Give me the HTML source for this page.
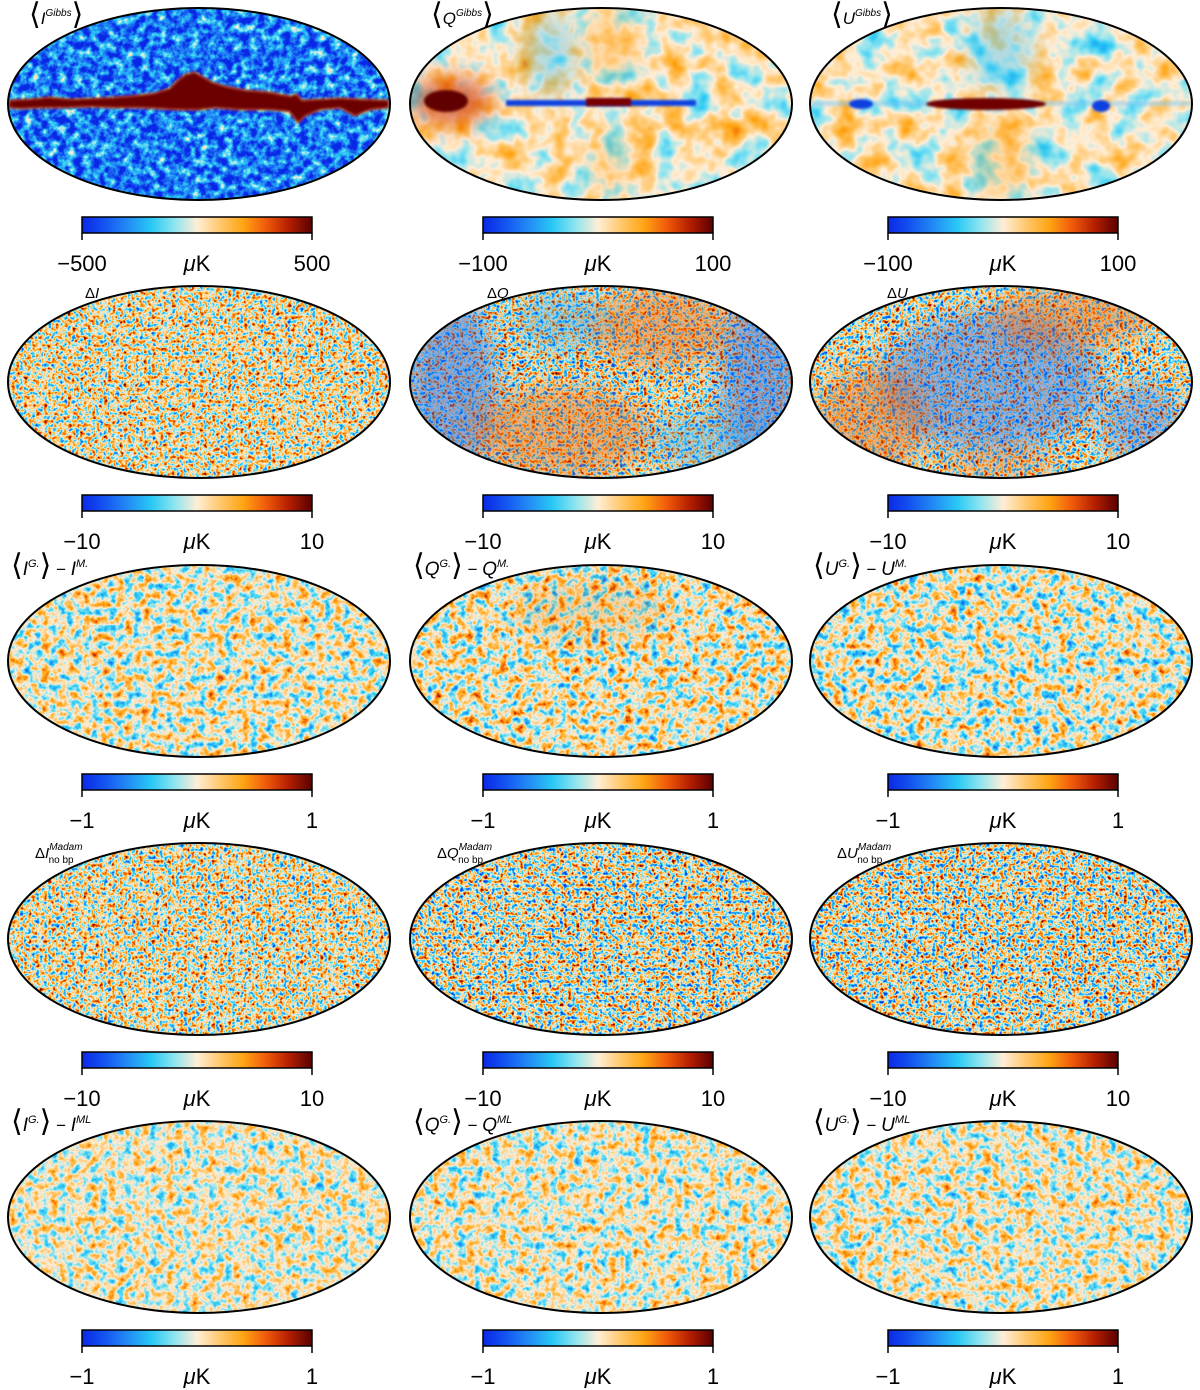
<!DOCTYPE html>
<html><head><meta charset="utf-8">
<style>
html,body{margin:0;padding:0;background:#fff;}
svg{display:block;font-family:"Liberation Sans",sans-serif;}
</style></head>
<body>
<svg id="fig" width="1200" height="1390" viewBox="0 0 1200 1390" xmlns="http://www.w3.org/2000/svg">
<defs id="defs">
<linearGradient id="cmap" x1="0" x2="1" y1="0" y2="0">
<stop offset="0" stop-color="rgb(10,40,230)"/>
<stop offset="0.1" stop-color="rgb(20,85,240)"/>
<stop offset="0.2" stop-color="rgb(35,140,245)"/>
<stop offset="0.3" stop-color="rgb(40,200,245)"/>
<stop offset="0.4" stop-color="rgb(140,228,240)"/>
<stop offset="0.5" stop-color="rgb(255,238,215)"/>
<stop offset="0.6" stop-color="rgb(255,200,110)"/>
<stop offset="0.7" stop-color="rgb(255,165,20)"/>
<stop offset="0.8" stop-color="rgb(240,90,10)"/>
<stop offset="0.9" stop-color="rgb(180,30,0)"/>
<stop offset="1" stop-color="rgb(90,0,0)"/>
</linearGradient>
<filter id="blur8" x="-50%" y="-50%" width="200%" height="200%"><feGaussianBlur stdDeviation="12"/></filter>
<filter id="blur2" x="-20%" y="-50%" width="140%" height="200%"><feGaussianBlur stdDeviation="1.2"/></filter>
</defs>
</svg>
<script>
const NS="http://www.w3.org/2000/svg";
const svg=document.getElementById('fig');
const defs=document.getElementById('defs');

// Data arrays
const rowTickMin=[["\u2212500","\u2212100","\u2212100"],["\u221210","\u221210","\u221210"],["\u22121","\u22121","\u22121"],["\u221210","\u221210","\u221210"],["\u22121","\u22121","\u22121"]];
const rowTickMax=[["500","100","100"],["10","10","10"],["1","1","1"],["10","10","10"],["1","1","1"]];
const unitLabel="K";
const stokes=["I","Q","U"];

// layout
const colCx=[199,601,1001];
const rowCy=[104,382,661,939,1217];
const RX=191, RY=96;
const cbX=[82,483,888], cbW=230, cbOff=113, cbH=16;

const cmR=[10,20,35,40,140,255,255,255,240,180,90];
const cmG=[40,85,140,200,228,238,200,165,90,30,0];
const cmB=[230,240,245,245,240,215,110,20,10,0,0];
const tbl=a=>a.map(v=>(v/255).toFixed(3)).join(' ');

// map parameters [mean, contrast, freq, octaves]
const mapParams=[
 [[0.17,1.0,0.12,3],[0.52,0.6,0.035,3],[0.5,0.6,0.035,3]],
 [[0.53,1.3,0.25,2],[0.5,1.5,0.25,2],[0.5,1.5,0.25,2]],
 [[0.5,0.9,0.12,3],[0.51,1.0,0.12,3],[0.49,1.0,0.12,3]],
 [[0.52,1.3,0.25,2],[0.5,1.5,0.25,2],[0.5,1.5,0.25,2]],
 [[0.5,0.8,0.12,3],[0.5,0.85,0.12,3],[0.5,0.85,0.12,3]]
];
// large-scale overlays: [dx,dy,rx,ry,color,opacity]
const overlays={
 "1-1":[[-150,0,45,90,"#2060e8",0.45],[160,0,40,90,"#2060e8",0.45],[60,-55,70,40,"#e86010",0.4],[-40,50,90,45,"#e86010",0.4],[-40,-60,45,30,"#30a0f0",0.35],[110,60,60,30,"#30a0f0",0.35]],
 "1-2":[[-10,0,110,70,"#2060e8",0.4],[70,-65,80,30,"#e86010",0.4],[-130,40,55,55,"#e86010",0.4],[0,85,60,15,"#e86010",0.3],[140,40,40,40,"#2060e8",0.35]],
 "2-1":[[-10,-50,80,30,"#f09020",0.2]],
 "0-1":[[-50,-50,25,40,"#40c0f0",0.4],[10,-60,25,40,"#ffb040",0.35],[10,60,20,35,"#ffb040",0.3]],
 "0-2":[[0,-55,30,40,"#40c0f0",0.4],[0,55,30,40,"#ffb040",0.35]]
};

let fid=0;
function makeFilter(p,seed){
  const [mean,k,f,oct]=p;
  const id='n'+(fid++);
  const flt=document.createElementNS(NS,'filter');
  flt.setAttribute('id',id);flt.setAttribute('x','0');flt.setAttribute('y','0');flt.setAttribute('width','1');flt.setAttribute('height','1');
  flt.setAttribute('color-interpolation-filters','sRGB');
  const b=(mean-0.5*k).toFixed(3);
  flt.innerHTML=`<feTurbulence type="fractalNoise" baseFrequency="${f}" numOctaves="${oct}" seed="${seed}"/>
  <feColorMatrix type="matrix" values="${k} 0 0 0 ${b} ${k} 0 0 0 ${b} ${k} 0 0 0 ${b} 0 0 0 0 1"/>
  <feComponentTransfer><feFuncR type="table" tableValues="${tbl(cmR)}"/><feFuncG type="table" tableValues="${tbl(cmG)}"/><feFuncB type="table" tableValues="${tbl(cmB)}"/><feFuncA type="linear" slope="0" intercept="1"/></feComponentTransfer>`;
  defs.appendChild(flt);
  return id;
}
function el(tag,attrs,parent){const e=document.createElementNS(NS,tag);for(const a in attrs)e.setAttribute(a,attrs[a]);(parent||svg).appendChild(e);return e;}

for(let r=0;r<5;r++){
 for(let c=0;c<3;c++){
  const cx=colCx[c], cy=rowCy[r];
  const g=el('g',{});
  
  
  const cid='clip'+r+c;
  const cp=el('clipPath',{id:cid},defs);
  el('ellipse',{cx:cx,cy:cy,rx:RX,ry:RY},cp);
  const inner=el('g',{'clip-path':`url(#${cid})`},g);
  const fidn=makeFilter(mapParams[r][c],r*7+c*3+1);
  el('rect',{x:cx-RX,y:cy-RY,width:2*RX,height:2*RY,filter:`url(#${fidn})`},inner);
  const ov=overlays[r+'-'+c]||[];
  ov.forEach(o=>{el('ellipse',{cx:cx+o[0],cy:cy+o[1],rx:o[2],ry:o[3],fill:o[4],opacity:o[5],filter:'url(#blur8)'},inner);});
  if(r===0&&c===0){
    const pts="10,101 30,100 50,98 70,100 100,99 130,97 155,94 170,89 178,81 186,75 195,73 205,79 212,83 225,87 245,91 270,93 290,97 296,95 302,101 320,100 340,99 360,100 388,101 388,107 370,109 355,115 340,107 320,109 305,115 298,122 290,111 270,109 240,109 215,107 200,109 180,109 160,108 140,107 115,107 90,106 60,107 40,107 20,108 10,107";
    el('polygon',{points:pts,fill:'#f05010',stroke:'#f05010','stroke-width':3,opacity:0.8,filter:'url(#blur2)'},inner);
    el('polygon',{points:pts,fill:'#6a0000',filter:'url(#blur2)'},inner);
  }
  if(r===0&&c===1){
    el('ellipse',{cx:cx-150,cy:cy-3,rx:40,ry:22,fill:'#d04010',opacity:0.8,filter:'url(#blur8)'},inner);
    el('ellipse',{cx:cx-155,cy:cy-3,rx:22,ry:11,fill:'#600000',filter:'url(#blur2)'},inner);
    el('rect',{x:cx-95,y:cy-4,width:190,height:6,fill:'#1040e0',filter:'url(#blur2)'},inner);
    el('rect',{x:cx-15,y:cy-6,width:45,height:8,fill:'#7a0000',filter:'url(#blur2)'},inner);
  }
  if(r===0&&c===2){
    el('rect',{x:cx-190,y:cy-3,width:380,height:5,fill:'#80c8f0',opacity:0.5,filter:'url(#blur2)'},inner);
    el('ellipse',{cx:cx-15,cy:cy,rx:60,ry:6,fill:'#700000',filter:'url(#blur2)'},inner);
    el('ellipse',{cx:cx-140,cy:cy,rx:12,ry:5,fill:'#1040e0',filter:'url(#blur2)'},inner);
    el('ellipse',{cx:cx+100,cy:cy+2,rx:9,ry:6,fill:'#1040e0',filter:'url(#blur2)'},inner);
  }
  el('ellipse',{cx:cx,cy:cy,rx:RX,ry:RY,fill:'none',stroke:'#000','stroke-width':2},g);

  // colorbar
  const cb=el('g',{});
  
  
  const y0=cy+cbOff, x0=cbX[c];
  el('rect',{x:x0,y:y0,width:cbW,height:cbH,fill:'url(#cmap)',stroke:'#000','stroke-width':1.5},cb);
  el('line',{x1:x0,x2:x0,y1:y0+cbH,y2:y0+cbH+7,stroke:'#000','stroke-width':1.5},cb);
  el('line',{x1:x0+cbW,x2:x0+cbW,y1:y0+cbH,y2:y0+cbH+7,stroke:'#000','stroke-width':1.5},cb);
  const t1=el('text',{x:x0,y:y0+54,'text-anchor':'middle','font-size':22},cb);t1.textContent=rowTickMin[r][c];
  
  const t2=el('text',{x:x0+cbW,y:y0+54,'text-anchor':'middle','font-size':22},cb);t2.textContent=rowTickMax[r][c];
  
  const u=el('text',{x:x0+cbW/2,y:y0+54,'text-anchor':'middle','font-size':22},cb);
  u.innerHTML='<tspan font-style="italic">\u03bc</tspan>'+unitLabel;
  

  // titles
  const S=stokes[c];
  let tx, ty, html;
  const ang=(s)=>`<tspan font-size="30" font-weight="100">${s}</tspan>`;
  if(r===0){tx=cx-170;ty=cy-80;html=`${ang('\u27e8')}<tspan font-style="italic" font-size="17">${S}</tspan><tspan font-style="italic" font-size="10" dy="-8">Gibbs</tspan><tspan dy="8">${ang('\u27e9')}</tspan>`;}
  else if(r===1){tx=cx-114;ty=cy-84;html=`<tspan font-size="15">\u0394</tspan><tspan font-style="italic" font-size="15">${S}</tspan>`;}
  else if(r===3){tx=cx-164;ty=cy-81;html=`<tspan font-size="15">\u0394</tspan><tspan font-style="italic" font-size="15">${S}</tspan><tspan font-style="italic" font-size="10" dy="-8">Madam</tspan><tspan font-size="10" dx="-34" dy="13">no bp</tspan>`;}
  else {const sup=r===2?'M.':'ML';tx=cx-188;ty=cy-86;html=`${ang('\u27e8')}<tspan font-style="italic" font-size="19">${S}</tspan><tspan font-style="italic" font-size="11" dy="-8">G.</tspan><tspan dy="8">${ang('\u27e9')}</tspan><tspan font-size="17"> \u2212 </tspan><tspan font-style="italic" font-size="19">${S}</tspan><tspan font-style="italic" font-size="11" dy="-8">${sup}</tspan>`;}
  const tt=el('text',{x:tx,y:ty,fill:'#000'});
  tt.innerHTML=html;
  
  
 }
}
</script>
</body></html>
